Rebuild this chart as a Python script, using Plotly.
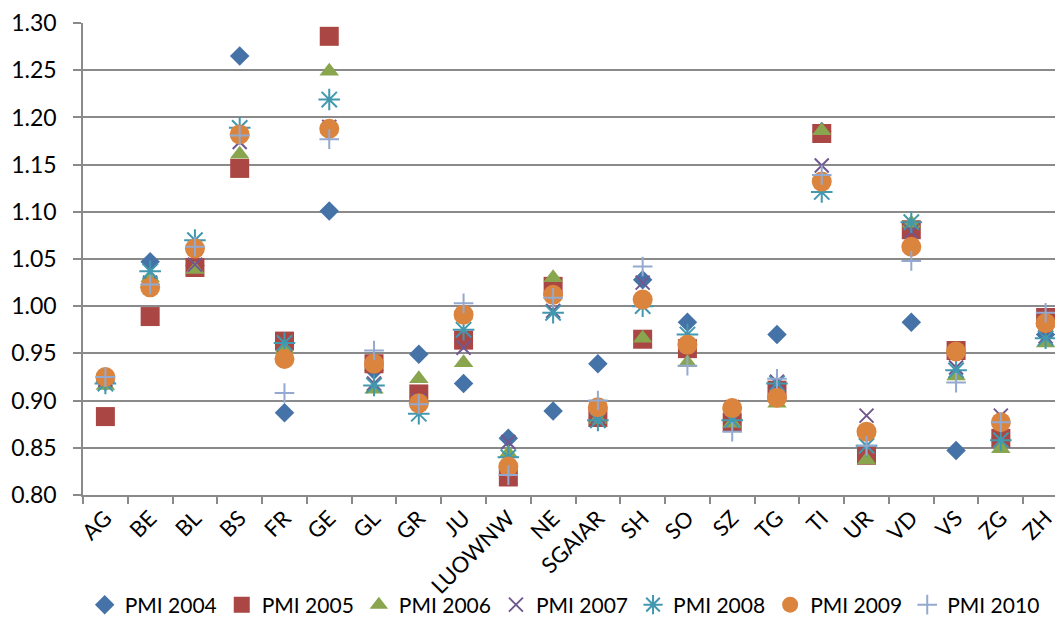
import plotly.graph_objects as go

categories = ["AG", "BE", "BL", "BS", "FR", "GE", "GL", "GR", "JU", "LUOWNW", "NE",
              "SGAIAR", "SH", "SO", "SZ", "TG", "TI", "UR", "VD", "VS", "ZG", "ZH"]

pmi_2004 = [0.920, 1.047, 1.043, 1.265, 0.887, 1.101, 0.932, 0.949, 0.918, 0.860, 0.889,
            0.939, 1.028, 0.983, 0.880, 0.970, 1.185, 0.845, 0.983, 0.847, 0.860, 0.970]
pmi_2005 = [0.883, 0.989, 1.041, 1.146, 0.963, 1.286, 0.939, 0.907, 0.964, 0.819, 1.021,
            0.882, 0.965, 0.955, 0.877, 0.911, 1.183, 0.842, 1.081, 0.953, 0.860, 0.988]
pmi_2006 = [0.916, 1.030, 1.039, 1.161, 0.955, 1.249, 0.912, 0.923, 0.940, 0.844, 1.030,
            0.880, 0.966, 0.940, 0.876, 0.897, 1.186, 0.837, 1.088, 0.926, 0.849, 0.961]
pmi_2007 = [0.922, 1.025, 1.044, 1.174, 0.945, 1.190, 0.918, 0.900, 0.956, 0.856, 0.995,
            0.883, 1.025, 0.958, 0.893, 0.920, 1.149, 0.884, 1.079, 0.935, 0.884, 0.968]
pmi_2008 = [0.918, 1.037, 1.070, 1.189, 0.961, 1.219, 0.916, 0.886, 0.975, 0.840, 0.993,
            0.879, 1.000, 0.970, 0.879, 0.918, 1.121, 0.852, 1.089, 0.932, 0.858, 0.966]
pmi_2009 = [0.925, 1.020, 1.061, 1.182, 0.944, 1.188, 0.939, 0.897, 0.991, 0.830, 1.012,
            0.893, 1.007, 0.959, 0.892, 0.903, 1.132, 0.867, 1.063, 0.952, 0.877, 0.982]
pmi_2010 = [0.925, 1.023, 1.063, 1.181, 0.908, 1.177, 0.953, 0.896, 1.003, 0.821, 1.009,
            0.900, 1.042, 0.937, 0.867, 0.923, 1.139, 0.852, 1.048, 0.919, 0.877, 0.993]

y_ticks = [0.80, 0.85, 0.90, 0.95, 1.00, 1.05, 1.10, 1.15, 1.20, 1.25, 1.30]

series_names = ["PMI 2004", "PMI 2005", "PMI 2006", "PMI 2007", "PMI 2008", "PMI 2009", "PMI 2010"]
series_values = [pmi_2004, pmi_2005, pmi_2006, pmi_2007, pmi_2008, pmi_2009, pmi_2010]

styles = [
    dict(symbol="diamond", size=15, color="#4572A7", line=dict(width=0)),
    dict(symbol="square", size=19, color="#AA4643", line=dict(width=0)),
    dict(symbol="triangle-up", size=17, color="#89A54E", line=dict(width=0)),
    dict(symbol="x-thin", size=14, color="#71588F", line=dict(width=2, color="#71588F")),
    dict(symbol="asterisk", size=18, color="#4198AF", line=dict(width=2, color="#4198AF")),
    dict(symbol="circle", size=20, color="#DB843D", line=dict(width=0)),
    dict(symbol="cross-thin", size=14, color="#93A9CF", line=dict(width=2, color="#93A9CF")),
]

FONT = "Lato, 'Open Sans', sans-serif"
GRID = "#8a8a8a"

fig = go.Figure()
for name, vals, st in zip(series_names, series_values, styles):
    fig.add_trace(go.Scatter(x=categories, y=vals, mode="markers", name=name, marker=st))

fig.update_layout(
    width=1063, height=643,
    margin=dict(l=75, r=3, t=15, b=156, autoexpand=False),
    paper_bgcolor="white", plot_bgcolor="white",
    font=dict(family=FONT, size=23, color="#000000"),
    showlegend=True,
    legend=dict(orientation="h", x=0.489, xanchor="center", y=-0.233, yanchor="middle",
                font=dict(size=21), itemwidth=30, tracegroupgap=0,
                bgcolor="rgba(0,0,0,0)"),
    xaxis=dict(type="category", categoryorder="array", categoryarray=categories,
               range=[-0.5, 21.5], tickson="boundaries", ticks="outside", ticklen=7,
               tickcolor=GRID, tickwidth=1.5, showline=True, linecolor=GRID, linewidth=1.5,
               showgrid=False, tickangle=-45, tickfont=dict(size=22), automargin=False),
    yaxis=dict(range=[0.7999, 1.3001], tickmode="array", tickvals=y_ticks,
               ticktext=[f"{v:.2f}" for v in y_ticks],
               ticks="outside", ticklen=8, tickcolor=GRID, tickwidth=1.5,
               showline=True, linecolor=GRID, linewidth=1.5,
               showgrid=True, gridcolor=GRID, gridwidth=1.5, zeroline=False,
               tickfont=dict(size=23), ticklabelstandoff=12, automargin=False),
)

fig.write_html("out.html")
